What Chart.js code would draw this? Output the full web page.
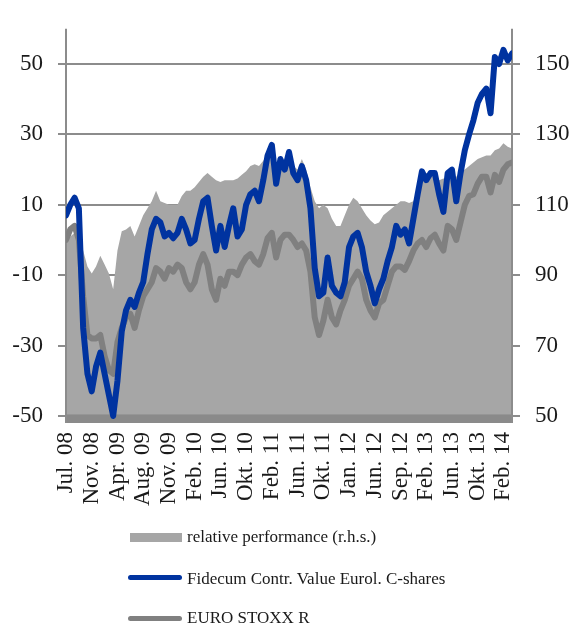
<!DOCTYPE html>
<html><head><meta charset="utf-8">
<script src="https://cdn.jsdelivr.net/npm/chart.js@4.4.0/dist/chart.umd.min.js"></script>
<style>
html,body{margin:0;padding:0;background:#fff;}
#wrap{position:relative;width:573px;height:626px;overflow:hidden;}
canvas{position:absolute;left:0;top:0;}
.leg{position:absolute;font-family:"Liberation Serif","Times New Roman",serif;font-size:17px;line-height:normal;color:#1a1a1a;white-space:nowrap;}
.sw{position:absolute;}
</style></head><body>
<div id="wrap">
<canvas id="c" width="573" height="626"></canvas>
<div class="sw" style="left:130px;top:533px;width:52px;height:9px;background:#a6a6a6"></div>
<div class="leg" style="left:187px;top:527px;">relative performance (r.h.s.)</div>
<div class="sw" style="left:128px;top:575px;width:54px;height:5px;border-radius:3px;background:#0033a0"></div>
<div class="leg" style="left:187px;top:569px;">Fidecum Contr. Value Eurol. C-shares</div>
<div class="sw" style="left:128px;top:616px;width:54px;height:5px;border-radius:3px;background:#808080"></div>
<div class="leg" style="left:187px;top:608px;">EURO STOXX R</div>
</div>
<script>
// tick labels (one every 6 data points)
const tickLabels = ["Jul. 08","Nov. 08","Apr. 09","Aug. 09","Nov. 09","Feb. 10","Jun. 10","Okt. 10","Feb. 11","Jun. 11","Okt. 11","Jan. 12","Jun. 12","Sep. 12","Feb. 13","Jun. 13","Okt. 13","Feb. 14"];
const pointsPerLabel = 6;
// Fidecum Contr. Value Eurol. C-shares (left axis, %)
const fidecum = [7,10,12,9,-25,-38,-43,-36,-32,-38,
 -44,-50,-40,-26,-20,-17,-19,-15,-12,-4,
 3,6,5,1,2,0.5,2,6,3,-1,
 0,6,11,12,4,-3,4,-2,4,9,
 1,3,10,13,14,11,17,24,27,16,
 23,20,25,19,17,21,17,9,-8,-16,
 -15,-5,-13,-15,-16,-12,-2,1,2,-2,
 -9,-13,-18,-14,-11,-6,-2,4,1.5,3,
 -1,6,13,19.5,17,19,19,13,8,19,
 20,11,19,25.5,30,34,39,41.5,43,36,
 52,50,54,51,53];
// EURO STOXX R (left axis, %)
const stoxx = [0,3,4,0,-16,-27,-28,-28,-27,-33,
 -37,-38,-29,-25,-22,-21,-25,-20,-16,-14,
 -12,-8,-9,-11,-8,-9,-7,-8,-12,-14,
 -12,-7,-4,-7,-14,-17,-11,-13,-9,-9,
 -10,-7,-5,-4,-6,-7,-4,0.5,2,-5,
 0,1.5,1.5,0,-2,-1,-3,-9,-22,-27,
 -23,-17,-22,-24,-20,-17,-13,-11,-9,-11,
 -17,-20,-22,-18,-17,-13,-9,-7.5,-7.5,-8.5,
 -6,-3,-1,0,-2,0.5,1.5,-1,-3,4,
 3,0,5,10,12.5,13,16,18,18,13.5,
 18.5,16.5,20,21.5,22];
// relative performance (right axis)
const relative = [100,101,102,100,97,92.5,90.5,92.5,95.5,93,
 90.5,86,97,102.5,103,104,101,104,107,109,
 111,114,111,110.5,110,110,110,112.5,114,114,
 115,116.5,118,119,118,117,116.5,117,117,117,
 117.5,118.5,119.5,121,121.5,121,122.5,124,126,122,
 123.5,121,124.5,121,120,123,120,115,111,109,
 110,109,106,104,104,107,110,112,111,109,
 107,105.5,104.5,105,107,108,109,110,111,111,
 110.5,111,114,119,119,118.5,118,117,117.5,117,
 118,118,119.5,120,121,122,123,123.5,124,124,
 125.5,126,127.5,126.5,126];
const leftTicks = [-50,-30,-10,10,30,50];
const rightTicks = [50,70,90,110,130,150];

const toXY = arr => arr.map((v,i)=>({x:i,y:v}));
const tickFont = {family:"'Liberation Serif','Times New Roman',serif", size:23};

const decor = {
  id:'decor',
  afterDatasetDraw(chart,args){
    if(args.index!==2) return;
    const {ctx, chartArea:a} = chart;
    const yb = chart.scales.y.getPixelForValue(-50) - 1.5;
    ctx.save();
    ctx.fillStyle = '#8a8a8a';
    ctx.fillRect(a.left, yb, a.right-a.left, a.bottom-yb);
    ctx.strokeStyle = '#8c8c8c';
    ctx.lineWidth = 2;
    ctx.beginPath();
    ctx.moveTo(a.left, a.top); ctx.lineTo(a.left, a.bottom);
    ctx.moveTo(a.right, a.top); ctx.lineTo(a.right, a.bottom);
    ctx.stroke();
    ctx.restore();
  }
};

new Chart(document.getElementById('c'), {
  type:'line',
  data:{datasets:[
    {label:'Fidecum Contr. Value Eurol. C-shares', data:toXY(fidecum), yAxisID:'y',
     borderColor:'#0033a0', borderWidth:6, pointRadius:0, tension:0, fill:false, order:0,
     borderJoinStyle:'round', borderCapStyle:'round'},
    {label:'EURO STOXX R', data:toXY(stoxx), yAxisID:'y',
     borderColor:'#808080', borderWidth:6, pointRadius:0, tension:0, fill:false, order:1,
     borderJoinStyle:'round', borderCapStyle:'round'},
    {label:'relative performance (r.h.s.)', data:toXY(relative), yAxisID:'y2',
     borderWidth:0, borderColor:'rgba(0,0,0,0)', backgroundColor:'#a6a6a6', fill:'start',
     pointRadius:0, tension:0, order:2}
  ]},
  options:{
    responsive:false, animation:false, devicePixelRatio:1,
    layout:{padding:{top:13,left:0,right:0,bottom:0}},
    plugins:{legend:{display:false}, tooltip:{enabled:false}},
    scales:{
      x:{type:'linear', min:0, max:fidecum.length-1, offset:false,
         grid:{display:false, drawTicks:false}, border:{display:false},
         afterBuildTicks: s => { s.ticks = tickLabels.map((_,k)=>({value:k*pointsPerLabel})); },
         afterFit: s => { s.height = 203; },
         ticks:{autoSkip:false, minRotation:90, maxRotation:90, padding:9, color:'#1a1a1a', font:tickFont,
                callback:(v)=> tickLabels[Math.round(v/pointsPerLabel)] }},
      y:{position:'left', min:-52, max:60,
         afterBuildTicks: s => { s.ticks = leftTicks.map(v=>({value:v})); },
         afterFit: s => { s.width = 66; },
         grid:{color:'#8c8c8c', lineWidth:2, tickLength:8, drawTicks:true},
         border:{display:false},
         ticks:{padding:15, color:'#1a1a1a', font:tickFont}},
      y2:{position:'right', min:48, max:160,
         afterBuildTicks: s => { s.ticks = rightTicks.map(v=>({value:v})); },
         afterFit: s => { s.width = 61; },
         grid:{drawOnChartArea:false, color:'#8c8c8c', lineWidth:2, tickLength:8, drawTicks:true},
         border:{display:false},
         ticks:{padding:15, color:'#1a1a1a', font:tickFont}}
    }
  },
  plugins:[decor]
});
</script>
</body></html>
